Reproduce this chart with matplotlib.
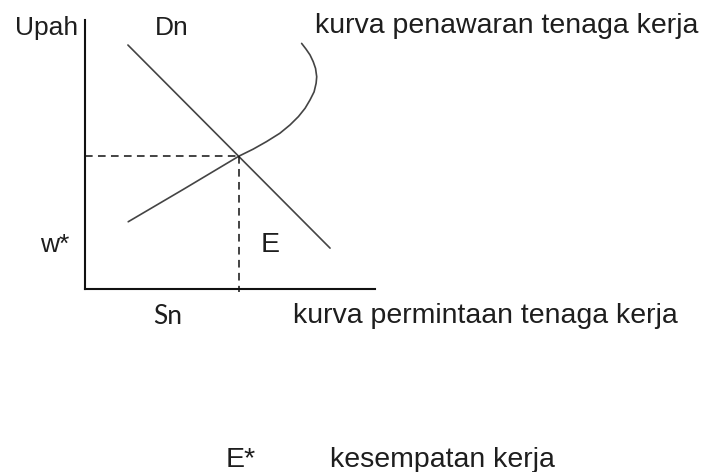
import matplotlib

matplotlib.use("Agg")
import matplotlib.pyplot as plt

W, H = 703, 472

# Curve points (axis units 0..10)
demand_x = [1.48, 8.45]
demand_y = [9.07, 1.52]

supply_x = [1.49, 3.40, 5.31, 5.80, 6.26, 6.72, 7.07, 7.36, 7.59, 7.76,
            7.90, 7.97, 7.99, 7.95, 7.87, 7.76, 7.62, 7.47]
supply_y = [2.50, 3.71, 4.94, 5.20, 5.48, 5.79, 6.10, 6.41, 6.72, 7.03,
            7.33, 7.65, 7.89, 8.20, 8.45, 8.70, 8.92, 9.13]

eq_x = 5.31
eq_y = 4.94

# Labels: (text, x px, baseline y px, size)
labels = [
    ("Upah", 15, 35, 19),
    ("Dn", 155, 35, 19),
    ("kurva penawaran tenaga kerja", 315, 33, 20.5),
    ("w*", 40, 252, 19),
    ("E", 261, 252, 20.5),
    ("kurva permintaan tenaga kerja", 293, 323, 20.5),
    ("E*", 226, 467, 20.5),
    ("kesempatan kerja", 330, 467, 20.5),
]

plt.rcParams["font.family"] = ["Liberation Sans", "DejaVu Sans"]

fig = plt.figure(figsize=(W / 100, H / 100), dpi=100)
fig.patch.set_facecolor("white")

# axes box in pixels: left 85, right 375, top 20, bottom 289
ax = fig.add_axes([85 / W, (H - 289) / H, 290 / W, 269 / H])
ax.set_xlim(0, 10)
ax.set_ylim(0, 10)
for side in ["top", "right"]:
    ax.spines[side].set_visible(False)
for side in ["left", "bottom"]:
    ax.spines[side].set_color("#111111")
    ax.spines[side].set_linewidth(1.5)
ax.set_xticks([])
ax.set_yticks([])
ax.patch.set_alpha(0)

curve_color = "#444444"
ax.plot(demand_x, demand_y, color=curve_color, lw=1.2, solid_capstyle="round")
ax.plot(supply_x, supply_y, color=curve_color, lw=1.2,
        solid_capstyle="round", solid_joinstyle="round")

# dashed guides to the axes
ax.plot([0, eq_x], [eq_y, eq_y], color="#111111", lw=1.1, ls=(0, (5, 3.5)))
ax.plot([eq_x, eq_x], [eq_y, -0.12], color="#111111", lw=1.1,
        ls=(0, (5, 3.5)), clip_on=False)

for text, x, y, size in labels:
    fig.text(x / W, 1 - y / H, text, ha="left", va="baseline",
             fontsize=size, color="#1e1e1e")

fig.text(153 / W, 1 - 324 / H, "Sn", ha="left", va="baseline",
         fontsize=19, color="#1e1e1e", family=["Lato", "DejaVu Sans"])

fig.savefig("out.png", dpi=100)
